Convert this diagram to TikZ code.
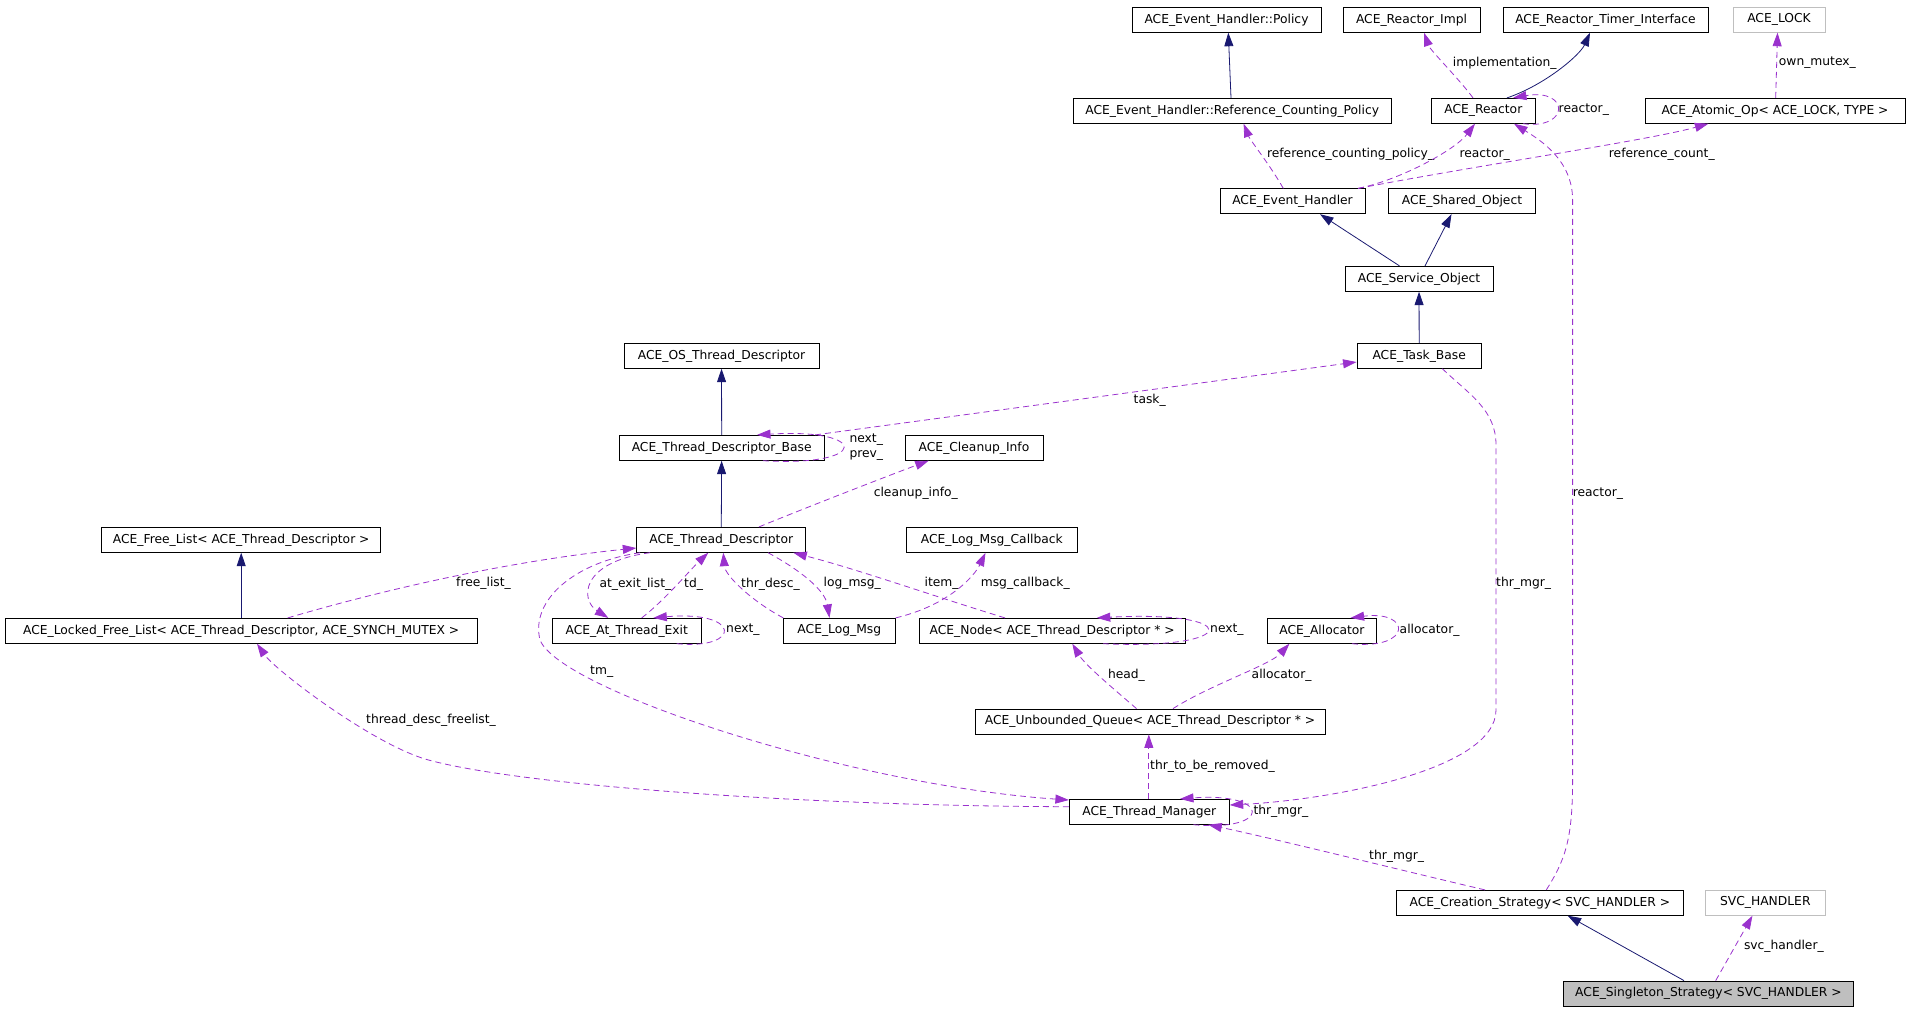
\documentclass[tikz,border=0pt]{standalone}
\usepackage{fontspec}
\setmainfont{DejaVu Sans}
\usepackage{tikz}
\usetikzlibrary{arrows.meta}
\definecolor{navy}{RGB}{25,25,112}
\definecolor{orchid}{RGB}{154,50,205}
\definecolor{grey75}{RGB}{191,191,191}
\newcommand{\dfont}{\fontsize{12.3bp}{15bp}\selectfont}
\tikzset{
  cls/.style={draw=black, line width=0.8bp, minimum height=25bp, inner sep=0pt, font=\dfont},
  ext/.style={cls, draw=grey75},
  cur/.style={cls, fill=grey75},
  inh/.style={navy, line width=0.8bp, -{Triangle[length=13.5bp,width=9bp]}},
  use/.style={orchid, line width=0.8bp, dash pattern=on 6bp off 4bp, -{Triangle[length=13.5bp,width=9bp]}},
  lbl/.style={font=\dfont, inner sep=0pt, anchor=west, align=left},
}

\begin{document}
\begin{tikzpicture}[x=1bp, y=-1bp]
        \useasboundingbox (0,0) rectangle (1909,1011);
        % classes
        \node[cls, minimum width=189bp] (policy) at (1226.5,19.8) {ACE\_Event\_Handler::Policy};
        \node[cls, minimum width=137bp] (rimpl) at (1411.5,19.8) {ACE\_Reactor\_Impl};
        \node[cls, minimum width=205bp] (timer) at (1605.5,19.8) {ACE\_Reactor\_Timer\_Interface};
        \node[ext, minimum width=92bp] (lock) at (1779,19.8) {ACE\_LOCK};
        \node[cls, minimum width=317.5bp] (rcp) at (1232.2,110.8) {ACE\_Event\_Handler::Reference\_Counting\_Policy};
        \node[cls, minimum width=103.3bp] (reactor) at (1483.3,110.8) {ACE\_Reactor};
        \node[cls, minimum width=260bp] (atomic) at (1775,110.8) {ACE\_Atomic\_Op< ACE\_LOCK, TYPE >};
        \node[cls, minimum width=145bp] (evh) at (1292.5,201.3) {ACE\_Event\_Handler};
        \node[cls, minimum width=147bp] (shobj) at (1462,201.3) {ACE\_Shared\_Object};
        \node[cls, minimum width=148bp] (svcobj) at (1419,278.8) {ACE\_Service\_Object};
        \node[cls, minimum width=124.5bp] (task) at (1419.2,355.8) {ACE\_Task\_Base};
        \node[cls, minimum width=195bp] (ostd) at (721.5,355.8) {ACE\_OS\_Thread\_Descriptor};
        \node[cls, minimum width=204.7bp] (tdbase) at (721.7,447.8) {ACE\_Thread\_Descriptor\_Base};
        \node[cls, minimum width=138bp] (cleanup) at (974,447.8) {ACE\_Cleanup\_Info};
        \node[cls, minimum width=279.2bp] (flist) at (241.2,539.8) {ACE\_Free\_List< ACE\_Thread\_Descriptor >};
        \node[cls, minimum width=169bp] (tdesc) at (721.2,539.8) {ACE\_Thread\_Descriptor};
        \node[cls, minimum width=170.3bp] (logcb) at (991.8,539.8) {ACE\_Log\_Msg\_Callback};
        \node[cls, minimum width=471.5bp] (lflist) at (241.2,630.8) {ACE\_Locked\_Free\_List< ACE\_Thread\_Descriptor, ACE\_SYNCH\_MUTEX >};
        \node[cls, minimum width=149bp] (atexit) at (626.8,630.8) {ACE\_At\_Thread\_Exit};
        \node[cls, minimum width=112.6bp] (logmsg) at (839.3,630.8) {ACE\_Log\_Msg};
        \node[cls, minimum width=265.4bp] (tnode) at (1052.2,630.8) {ACE\_Node< ACE\_Thread\_Descriptor * >};
        \node[cls, minimum width=108.9bp] (alloc) at (1321.9,630.8) {ACE\_Allocator};
        \node[cls, minimum width=350bp] (queue) at (1150,721.5) {ACE\_Unbounded\_Queue< ACE\_Thread\_Descriptor * >};
        \node[cls, minimum width=160bp] (tmgr) at (1149.3,811.8) {ACE\_Thread\_Manager};
        \node[cls, minimum width=286.8bp] (create) at (1539.9,902.8) {ACE\_Creation\_Strategy< SVC\_HANDLER >};
        \node[ext, minimum width=120bp] (svch) at (1765.3,902.8) {SVC\_HANDLER};
        \node[cur, minimum width=290bp] (single) at (1708.4,993.5) {ACE\_Singleton\_Strategy< SVC\_HANDLER >};
        % inheritance
        \draw[inh] (1231,0 |- rcp.north) -- (1228.3,0 |- policy.south);
        \draw[inh] (1507,0 |- reactor.north) .. controls (1545,85) and (1580,55) .. (1590,0 |- timer.south);
        \draw[inh] (1399.5,0 |- svcobj.north) -- (1320,0 |- evh.south);
        \draw[inh] (1425,0 |- svcobj.north) -- (1451.5,0 |- shobj.south);
        \draw[inh] (task) -- (svcobj);
        \draw[inh] (tdbase) -- (ostd);
        \draw[inh] (tdesc) -- (tdbase);
        \draw[inh] (lflist) -- (flist);
        \draw[inh] (1684,0 |- single.north) -- (1567.7,0 |- create.south);
        % members
        \draw[use] (1473,0 |- reactor.north) .. controls (1460,80) and (1430,50) .. (1424,0 |- rimpl.south);
        \node[lbl] (limpl) at (1452.7,63) {implementation\_};
        \draw[use] (1523,0 |- reactor.south) .. controls (1570,130) and (1570,88) .. (1513,0 |- reactor.north);
        \node[lbl] (lreact1) at (1558.5,110) {reactor\_};
        \draw[use] (1546.3,0 |- create.north) .. controls (1565,860) and (1572.6,840) .. (1572.6,780) -- (1572.6,200) .. controls (1572.6,160) and (1540,140) .. (1514,0 |- reactor.south);
        \node[lbl] (lreact2) at (1572.6,493.3) {reactor\_};
        \draw[use] (1283.3,0 |- evh.north) .. controls (1270,165) and (1250,140) .. (1243.6,0 |- rcp.south);
        \node[lbl] (lrcp) at (1266.8,154.3) {reference\_counting\_policy\_};
        \draw[use] (1358,0 |- evh.north) .. controls (1400,180) and (1455,150) .. (1475,0 |- reactor.south);
        \node[lbl] (lreact3) at (1459.3,154.3) {reactor\_};
        \draw[use] (1358,0 |- evh.north) .. controls (1480,165) and (1650,140) .. (1708.4,0 |- atomic.south);
        \node[lbl] (lrefc) at (1608.7,154.3) {reference\_count\_};
        \draw[use] (1775.7,0 |- atomic.north) -- (1777.5,0 |- lock.south);
        \node[lbl] (lmutex) at (1778.7,63) {own\_mutex\_};
        \draw[use] (763,0 |- tdbase.south) .. controls (870,467) and (870,428) .. (757,0 |- tdbase.north);
        \node[lbl] (lnext1) at (849.3,447.5) {next\_\\prev\_};
        \draw[use] (815,0 |- tdbase.north) -- (task.west |- 0,362);
        \node[lbl] (ltask) at (1133.5,400) {task\_};
        \draw[use] (759,0 |- tdesc.north) .. controls (800,510) and (890,475) .. (928.7,0 |- cleanup.south);
        \node[lbl] (lclean) at (873.6,493.3) {cleanup\_info\_};
        \draw[use] (287.7,0 |- lflist.north) .. controls (400,585) and (520,560) .. (tdesc.west |- 0,548);
        \node[lbl] (lfree) at (456,583.3) {free\_list\_};
        \draw[use] (650,0 |- tdesc.south) .. controls (580,562) and (580,600) .. (608.3,0 |- atexit.north);
        \node[lbl] (lexit) at (599.3,584) {at\_exit\_list\_};
        \draw[use] (641.7,0 |- atexit.north) .. controls (665,600) and (690,570) .. (708.3,0 |- tdesc.south);
        \node[lbl] (ltd) at (684,584) {td\_};
        \draw[use] (676.7,0 |- atexit.south) .. controls (742,650) and (742,610) .. (653.3,0 |- atexit.north);
        \node[lbl] (lnext2) at (726,630) {next\_};
        \draw[use] (783.3,0 |- logmsg.north) .. controls (750,600) and (725,575) .. (723.3,0 |- tdesc.south);
        \node[lbl] (ldesc) at (741,584) {thr\_desc\_};
        \draw[use] (768,0 |- tdesc.south) .. controls (800,570) and (825,590) .. (829.5,0 |- logmsg.north);
        \node[lbl] (llog) at (823.4,583.3) {log\_msg\_};
        \draw[use] (1005,0 |- tnode.north) .. controls (930,595) and (860,570) .. (793.3,0 |- tdesc.south);
        \node[lbl] (litem) at (924.4,583.3) {item\_};
        \draw[use] (895.6,0 |- logmsg.north) .. controls (950,605) and (975,575) .. (985.5,0 |- logcb.south);
        \node[lbl] (lcb) at (980.6,583.3) {msg\_callback\_};
        \draw[use] (1103,0 |- tnode.south) .. controls (1243,650) and (1243,610) .. (1096.8,0 |- tnode.north);
        \node[lbl] (lnext3) at (1210,630) {next\_};
        \draw[use] (1352,0 |- alloc.south) .. controls (1412,650) and (1412,610) .. (1350.6,0 |- alloc.north);
        \node[lbl] (lalloc1) at (1399.5,630) {allocator\_};
        \draw[use] (1136.5,0 |- queue.north) .. controls (1115,690) and (1085,665) .. (1072.3,0 |- tnode.south);
        \node[lbl] (lhead) at (1107.8,675) {head\_};
        \draw[use] (1173,0 |- queue.north) .. controls (1210,685) and (1270,665) .. (1289.4,0 |- alloc.south);
        \node[lbl] (lalloc2) at (1251.5,675) {allocator\_};
        \draw[use] (1148.8,0 |- tmgr.north) -- (1148.8,0 |- queue.south);
        \node[lbl] (lremove) at (1150,766) {thr\_to\_be\_removed\_};
        \draw[use] (1193.3,0 |- tmgr.south) .. controls (1272,832) and (1272,792) .. (1180,0 |- tmgr.north);
        \node[lbl] (lmgr1) at (1253.3,811.7) {thr\_mgr\_};
        \draw[use] (1442.3,0 |- task.south) .. controls (1470,395) and (1496,410) .. (1496,445) -- (1496,710) .. controls (1496,770) and (1330,800) .. (tmgr.east |- 0,805);
        \node[lbl] (lmgr2) at (1496,583.3) {thr\_mgr\_};
        \draw[use] (1485,0 |- create.north) .. controls (1400,870) and (1280,840) .. (1208.3,0 |- tmgr.south);
        \node[lbl] (lmgr3) at (1369,856) {thr\_mgr\_};
        \draw[use] (640,0 |- tdesc.south) .. controls (575,562) and (530,600) .. (540,640) .. controls (560,690) and (850,785) .. (tmgr.west |- 0,800);
        \node[lbl] (ltm) at (590,672) {tm\_};
        \draw[use] (tmgr.west |- 0,806.7) .. controls (800,806) and (520,785) .. (428.5,760) .. controls (373.5,745) and (275,670) .. (257,0 |- lflist.south);
        \node[lbl] (lfreel) at (366,720) {thread\_desc\_freelist\_};
        \draw[use] (1715.7,0 |- single.north) -- (1752.4,0 |- svch.south);
        \node[lbl] (lsvc) at (1743.8,946.7) {svc\_handler\_};
\end{tikzpicture}
\end{document}
